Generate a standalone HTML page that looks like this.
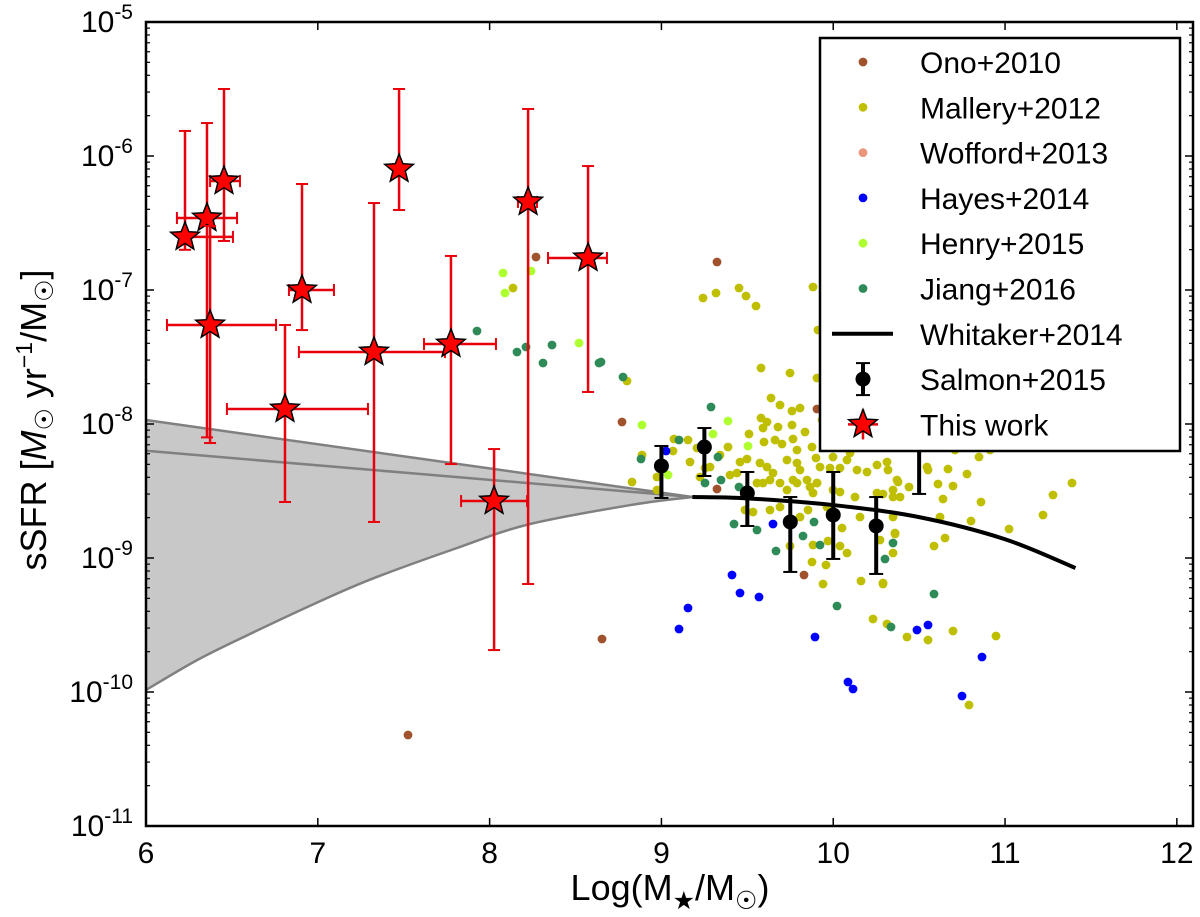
<!DOCTYPE html>
<html><head><meta charset="utf-8"><style>
html,body{margin:0;padding:0;background:#fff;}
svg{display:block;font-family:"Liberation Sans","DejaVu Sans",sans-serif;}
</style></head><body>
<svg id="chart" width="1200" height="917" viewBox="0 0 1200 917" xmlns="http://www.w3.org/2000/svg">
<g id="band"></g>
<g id="dots"></g>
<g id="whit"></g>
<g id="salmon"></g>
<g id="stars"></g>
<g id="axes"></g>
<g id="legend"></g>
<text x="670" y="900" font-size="36" text-anchor="middle">Log(M<tspan font-size="25" dy="9">★</tspan><tspan dy="-9">/M</tspan><tspan font-size="25" dy="9">☉</tspan><tspan dy="-9">)</tspan></text>
<text transform="translate(46,420) rotate(-90)" font-size="36" text-anchor="middle">sSFR [<tspan font-style="italic">M</tspan><tspan font-size="25" dy="7">☉</tspan><tspan dy="-7"> yr</tspan><tspan font-size="23" dy="-14">−1</tspan><tspan dy="14">/M</tspan><tspan font-size="25" dy="7">☉</tspan><tspan dy="-7">]</tspan></text>
</svg>
<script>
// ---- data (log10 values) ----
const starX=[6.227,6.355,6.454,6.373,6.908,6.809,7.327,7.473,7.775,8.026,8.224,8.573];
const starY=[-6.604,-6.463,-6.187,-7.261,-7.0,-7.888,-7.463,-6.097,-7.403,-8.575,-6.343,-6.761];
const starYHi=[-5.813,-5.754,-5.50,-6.522,-6.209,-7.261,-6.351,-5.50,-6.746,-8.187,-5.649,-6.075];
const starYLo=[-6.70,-8.10,-6.634,-8.142,-7.299,-8.582,-8.731,-6.403,-8.299,-9.687,-9.194,-7.761];
const starXLo=[6.198,6.18,6.373,6.122,6.832,6.471,6.89,7.44,7.618,7.834,8.165,8.34];
const starXHi=[6.506,6.53,6.547,6.757,7.094,7.292,7.74,7.50,8.037,8.218,8.276,8.683];
const salX=[9.0,9.25,9.5,9.75,10.0,10.25,10.5];
const salY=[-8.313,-8.172,-8.515,-8.731,-8.679,-8.761,-8.157];
const salYHi=[-8.164,-8.030,-8.358,-8.545,-8.358,-8.545,-7.948];
const salYLo=[-8.552,-8.388,-8.761,-9.104,-9.007,-9.119,-8.522];
const whitX=[9.18,9.5,10.0,10.5,11.0,11.41];
const whitY=[-8.545,-8.555,-8.605,-8.695,-8.86,-9.075];
const bandUpX=[6.0,9.18];const bandUpY=[-7.97,-8.545];
const bandMidX=[6.0,9.18];const bandMidY=[-8.2,-8.545];
const bandLoX=[6.0,6.3,6.605,7.0,7.327,7.8,8.224,8.82,9.18];
const bandLoY=[-9.985,-9.76,-9.567,-9.33,-9.15,-8.93,-8.75,-8.605,-8.545];
// scatter positions recorded in screen pixels of reference, converted via inverse axis below
const onoPx=[[536,257],[717,262],[622,422],[817,409],[717,489],[804,575],[602,639],[408,735]];
const hayesPx=[[666,451],[773,524],[732,575],[740,593],[759,597],[688,608],[679,629],[815,637],[848,682],[853,689],[917,630],[928,625],[982,657],[962,696]];
const henryPx=[[503,273],[505,293],[579,343],[642,425],[728,421],[713,434],[748,446],[668,475],[531,271]];
const jiangPx=[[477,331],[517,352],[526,347],[543,363],[552,345],[599,363],[623,377],[601,362],[711,407],[679,440],[718,457],[641,459],[721,480],[705,483],[739,487],[734,524],[757,530],[803,536],[814,522],[776,551],[820,545],[885,559],[837,606],[891,627],[893,543],[934,594]];
const malleryPx=[[513,288],[703,298],[716,293],[739,288],[746,296],[756,306],[813,287],[761,368],[790,373],[817,378],[627,381],[771,398],[780,405],[792,411],[800,408],[761,418],[767,422],[778,427],[792,425],[763,428],[749,434],[793,439],[782,444],[764,442],[728,447],[688,440],[674,439],[697,448],[673,451],[642,455],[812,447],[797,450],[747,459],[816,458],[632,482],[700,477],[710,467],[730,475],[737,473],[760,463],[767,467],[773,473],[770,480],[780,483],[787,460],[797,463],[800,470],[807,480],[820,467],[830,468],[833,457],[847,460],[857,470],[840,468],[867,472],[887,462],[888,470],[850,453],[833,443],[817,483],[833,490],[810,487],[793,480],[787,490],[757,483],[747,490],[657,477],[657,490],[893,490],[897,480],[877,465],[753,512],[770,510],[780,507],[800,517],[808,510],[813,493],[827,507],[840,492],[855,497],[860,517],[842,528],[813,545],[828,541],[840,546],[847,553],[790,546],[812,562],[826,565],[823,584],[861,581],[883,584],[873,619],[887,624],[880,540],[895,533],[893,553],[745,510],[763,483],[797,483],[817,483],[893,497],[877,493],[898,482],[909,487],[927,467],[928,470],[948,469],[967,474],[979,457],[938,484],[953,486],[943,499],[981,502],[900,497],[883,494],[893,517],[940,517],[971,521],[1009,529],[1043,515],[1053,495],[1072,483],[895,534],[934,546],[945,538],[883,583],[907,637],[928,640],[953,631],[996,636],[969,705],[818,330],[833,346],[851,357],[870,383],[955,450],[990,450],[1000,425],[1010,432],[690,462],[720,455],[775,440],[805,432],[822,420],[740,462],[705,468]];
const xTicks=[6,7,8,9,10,11,12];
const yTicks=[-5,-6,-7,-8,-9,-10,-11];
const legendLabels=["Ono+2010","Mallery+2012","Wofford+2013","Hayes+2014","Henry+2015","Jiang+2016","Whitaker+2014","Salmon+2015","This work"];
const legendColors=["#a0522d","#bfbf00","#e9967a","#0000ff","#adff2f","#2e8b57","#000","#000","#ff0000"];

// ---- axes ----
const L=146,R=1193,T=22,B=826;
const XMIN=6,XMAX=12.094,YMAX=-5,YMIN=-11;
const sx=v=>L+(v-XMIN)/(XMAX-XMIN)*(R-L);
const sy=v=>T+(YMAX-v)/(YMAX-YMIN)*(B-T);
const ix=p=>XMIN+(p-L)/(R-L)*(XMAX-XMIN);
const iy=p=>YMAX-(p-T)/(B-T)*(YMAX-YMIN);
const NS="http://www.w3.org/2000/svg";
function mk(tag,attrs,parent){const e=document.createElementNS(NS,tag);for(const k in attrs)e.setAttribute(k,attrs[k]);parent.appendChild(e);return e;}
// smooth Catmull-Rom path through screen points
function smooth(pts,move){let s=(move?"M":"L")+pts[0][0]+","+pts[0][1];
  for(let i=0;i<pts.length-1;i++){const p0=pts[Math.max(0,i-1)],p1=pts[i],p2=pts[i+1],p3=pts[Math.min(pts.length-1,i+2)];
    const c1=[p1[0]+(p2[0]-p0[0])/6,p1[1]+(p2[1]-p0[1])/6],c2=[p2[0]-(p3[0]-p1[0])/6,p2[1]-(p3[1]-p1[1])/6];
    s+=" C"+c1.join(",")+" "+c2.join(",")+" "+p2.join(",");}
  return s;}

// band
const band=document.getElementById('band');
const upPts=bandUpX.map((x,i)=>[sx(x),sy(bandUpY[i])]);
const loPts=bandLoX.map((x,i)=>[sx(x),sy(bandLoY[i])]);
let d="M"+upPts.map(p=>p.join(",")).join(" L")+" "+smooth(loPts.slice().reverse(),false)+"Z";
const bp=mk('path',{d:d,fill:"#c8c8c8",stroke:"none"},band);


[[bandUpX,bandUpY,'band-upper'],[bandMidX,bandMidY,'band-middle'],[bandLoX,bandLoY,'band-lower']].forEach(([xs,ys,n])=>{
  const p=mk('path',{d:smooth(xs.map((x,i)=>[sx(x),sy(ys[i])]),true),fill:"none",stroke:"#808080","stroke-width":2.5},band);
  
  
});

// scatter
const dots=document.getElementById('dots');
function scatter(arr,color,name){arr.forEach(([px,py])=>{
  const c=mk('circle',{cx:sx(ix(px)),cy:sy(iy(py)),r:4.4,fill:color},dots);
  
  
});}
scatter(malleryPx,"#bfbf00","mallery-point");
scatter(onoPx,"#a0522d","ono-point");
scatter(henryPx,"#adff2f","henry-point");
scatter(jiangPx,"#2e8b57","jiang-point");
scatter(hayesPx,"#0000ff","hayes-point");

// whitaker
const wl=mk('path',{d:smooth(whitX.map((x,i)=>[sx(x),sy(whitY[i])]),true),fill:"none",stroke:"#000","stroke-width":4},document.getElementById('whit'));



// salmon
const sal=document.getElementById('salmon');
salX.forEach((x,i)=>{
  const g=mk('g',{},sal);
  
  
  const X=sx(x);
  mk('line',{x1:X,x2:X,y1:sy(salYHi[i]),y2:sy(salYLo[i]),stroke:"#000","stroke-width":4},g);
  mk('line',{x1:X-7,x2:X+7,y1:sy(salYHi[i]),y2:sy(salYHi[i]),stroke:"#000","stroke-width":2},g);
  mk('line',{x1:X-7,x2:X+7,y1:sy(salYLo[i]),y2:sy(salYLo[i]),stroke:"#000","stroke-width":2},g);
  mk('circle',{cx:X,cy:sy(salY[i]),r:7.5,fill:"#000"},g);
});

// stars
function starPath(cx,cy,ro,ri){let p="";for(let k=0;k<10;k++){const r=k%2?ri:ro;const a=-Math.PI/2+k*Math.PI/5;p+=(k?"L":"M")+(cx+r*Math.cos(a)).toFixed(1)+","+(cy+r*Math.sin(a)).toFixed(1);}return p+"Z";}
const st=document.getElementById('stars');
starX.forEach((x,i)=>{
  const g=mk('g',{},st);
  
  
  const X=sx(x),Y=sy(starY[i]);
  const yh=sy(starYHi[i]),yl=sy(starYLo[i]),xl=sx(starXLo[i]),xh=sx(starXHi[i]);
  const c="#e8000b";
  mk('line',{x1:X,x2:X,y1:yh,y2:yl,stroke:c,"stroke-width":2.5},g);
  mk('line',{x1:X-6,x2:X+6,y1:yh,y2:yh,stroke:c,"stroke-width":2},g);
  mk('line',{x1:X-6,x2:X+6,y1:yl,y2:yl,stroke:c,"stroke-width":2},g);
  mk('line',{x1:xl,x2:xh,y1:Y,y2:Y,stroke:c,"stroke-width":2.5},g);
  mk('line',{x1:xl,x2:xl,y1:Y-6,y2:Y+6,stroke:c,"stroke-width":2},g);
  mk('line',{x1:xh,x2:xh,y1:Y-6,y2:Y+6,stroke:c,"stroke-width":2},g);
  mk('path',{d:starPath(X,Y,15,6.5),fill:"#ff0000",stroke:"#000","stroke-width":1.5},g);
});

// axes
const ax=document.getElementById('axes');
mk('rect',{x:L,y:T,width:R-L,height:B-T,fill:"none",stroke:"#000","stroke-width":2.5},ax);
xTicks.forEach(t=>{
  const X=sx(t);
  mk('line',{x1:X,x2:X,y1:B,y2:B-8,stroke:"#000","stroke-width":1.5},ax);
  mk('line',{x1:X,x2:X,y1:T,y2:T+8,stroke:"#000","stroke-width":1.5},ax);
  const tx=mk('text',{x:X,y:B+37,"font-size":30,"text-anchor":"middle"},ax);
  tx.textContent=t;
  
  
});
yTicks.forEach(t=>{
  const Y=sy(t);
  mk('line',{x1:L,x2:L+8,y1:Y,y2:Y,stroke:"#000","stroke-width":1.5},ax);
  mk('line',{x1:R,x2:R-8,y1:Y,y2:Y,stroke:"#000","stroke-width":1.5},ax);
  if(t>YMIN){for(let m=2;m<10;m++){const yy=sy(t-1+Math.log10(m));
    mk('line',{x1:L,x2:L+4,y1:yy,y2:yy,stroke:"#000","stroke-width":1.2},ax);
    mk('line',{x1:R,x2:R-4,y1:yy,y2:yy,stroke:"#000","stroke-width":1.2},ax);}}
  const tx=mk('text',{x:133,y:Y+10,"font-size":30,"text-anchor":"end"},ax);
  
  
  const a=document.createElementNS(NS,'tspan');a.textContent="10";tx.appendChild(a);
  const b=document.createElementNS(NS,'tspan');b.setAttribute('font-size','21');b.setAttribute('dy','-13');b.textContent=String(t);tx.appendChild(b);
});

// legend
const lg=document.getElementById('legend');
const box=mk('rect',{x:820,y:38,width:360,height:413,fill:"#fff",stroke:"#000","stroke-width":2.5},lg);


legendLabels.forEach((lab,i)=>{
  const Y=62+i*45.3;
  const g=mk('g',{},lg);
  
  
  const mx=863;
  if(i<6){mk('circle',{cx:mx,cy:Y,r:4.4,fill:legendColors[i]},g);}
  else if(i===6){mk('line',{x1:832,x2:893,y1:Y,y2:Y,stroke:"#000","stroke-width":4},g);}
  else if(i===7){mk('line',{x1:mx,x2:mx,y1:Y-16,y2:Y+16,stroke:"#000","stroke-width":4},g);
    mk('line',{x1:mx-7,x2:mx+7,y1:Y-16,y2:Y-16,stroke:"#000","stroke-width":2},g);
    mk('line',{x1:mx-7,x2:mx+7,y1:Y+16,y2:Y+16,stroke:"#000","stroke-width":2},g);
    mk('circle',{cx:mx,cy:Y,r:7.5,fill:"#000"},g);}
  else{mk('line',{x1:mx,x2:mx,y1:Y-15,y2:Y+15,stroke:"#e8000b","stroke-width":2.5},g);
    mk('line',{x1:mx-15,x2:mx+15,y1:Y,y2:Y,stroke:"#e8000b","stroke-width":2.5},g);
    mk('path',{d:starPath(mx,Y,15,6.5),fill:"#ff0000",stroke:"#000","stroke-width":1.5},g);}
  const t=mk('text',{x:920,y:Y+11,"font-size":30},g);
  t.textContent=lab;
});
</script>
</body></html>
